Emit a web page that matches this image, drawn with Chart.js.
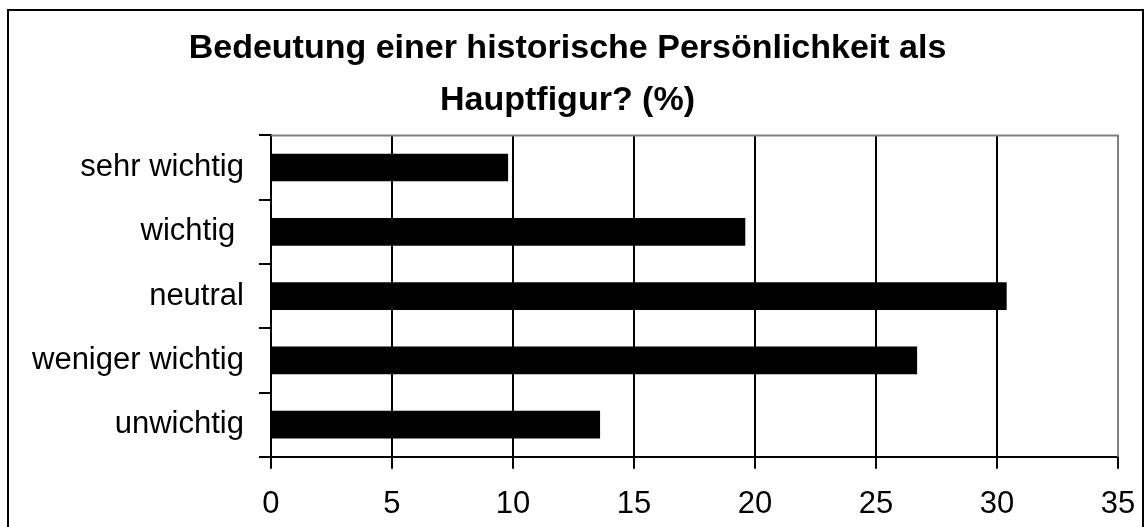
<!DOCTYPE html>
<html>
<head>
<meta charset="utf-8">
<script src="https://cdn.jsdelivr.net/npm/chart.js@4"></script>
<style>
  body { margin: 0; background: #fff; }
  #wrap { position: relative; width: 1148px; height: 527px; overflow: hidden; }
  #frame {
    position: absolute; left: 7px; top: 9px; width: 1137px; height: 560px;
    border: 2px solid #000; box-sizing: border-box;
  }
  canvas { position: absolute; left: 0; top: 0; }
</style>
</head>
<body>
<div id="wrap">
  <div id="frame"></div>
  <!-- etwas höher als das Fenster, damit die x-Beschriftung tief genug sitzt -->
  <canvas id="chart" width="1148" height="540"></canvas>
</div>
<script>
// Werte (Prozent)
const categories = ["sehr wichtig", "wichtig ", "neutral", "weniger wichtig", "unwichtig"];
const percentValues = [9.8, 19.6, 30.4, 26.7, 13.6];
const xMin = 0;
const xMax = 35;
const xStep = 5;
const titleLines = ["Bedeutung einer historische Persönlichkeit als", "Hauptfigur? (%)"];

const FONT = "'Liberation Sans', Arial, sans-serif";

// Rahmen oben/rechts im Plotbereich (grau)
const plotFrame = {
  id: "plotFrame",
  beforeDatasetsDraw(chart) {
    const { ctx, chartArea: a } = chart;
    ctx.save();
    ctx.strokeStyle = "#808080";
    ctx.lineWidth = 2;
    ctx.beginPath();
    ctx.moveTo(a.left, a.top);
    ctx.lineTo(a.right, a.top);
    ctx.lineTo(a.right, a.bottom);
    ctx.stroke();
    ctx.restore();
  }
};

document.addEventListener("DOMContentLoaded", () => {
  const ctx = document.getElementById("chart").getContext("2d");
  new Chart(ctx, {
    type: "bar",
    data: {
      labels: categories,
      datasets: [{
        data: percentValues,
        backgroundColor: "#000",
        borderWidth: 0,
        categoryPercentage: 1,
        barPercentage: 0.43
      }]
    },
    options: {
      indexAxis: "y",
      responsive: false,
      animation: false,
      devicePixelRatio: 1,
      layout: { padding: { left: 17, right: 30, top: 20, bottom: 0 } },
      plugins: {
        legend: { display: false },
        tooltip: { enabled: false },
        title: {
          display: true,
          text: titleLines,
          color: "#000",
          font: { family: FONT, size: 34, weight: "bold", lineHeight: 1.55 },
          padding: { top: 2, bottom: 8 }
        }
      },
      scales: {
        x: {
          min: xMin,
          max: xMax,
          // rechter Rand kommt nur aus layout.padding
          afterFit: (scale) => { scale.paddingRight = 0; },
          ticks: {
            stepSize: xStep,
            color: "#000",
            font: { family: FONT, size: 31 },
            padding: 17
          },
          grid: { color: "#000", lineWidth: 2, tickLength: 12 },
          border: { color: "#000", width: 2 }
        },
        y: {
          ticks: {
            color: "#000",
            font: { family: FONT, size: 31 },
            padding: 15
          },
          grid: { color: "#000", lineWidth: 2, tickLength: 12, drawOnChartArea: false, offset: true },
          border: { color: "#000", width: 2 }
        }
      }
    },
    plugins: [plotFrame]
  });
});
</script>
</body>
</html>
